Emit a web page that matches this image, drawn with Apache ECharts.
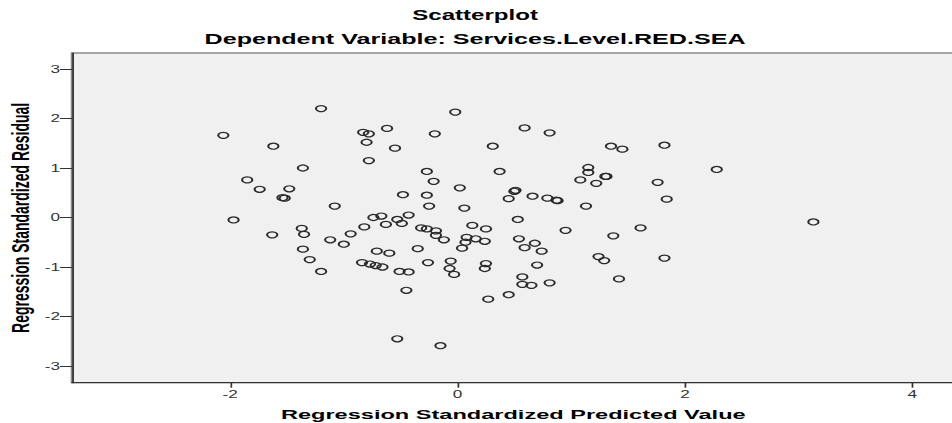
<!DOCTYPE html>
<html>
<head>
<meta charset="utf-8">
<script src="https://cdn.jsdelivr.net/npm/echarts@6/dist/echarts.min.js"></script>
<style>
html,body{margin:0;padding:0;background:#fff;overflow:hidden;}
#wrap{width:952px;height:423px;overflow:hidden;position:relative;}
#chart{width:553.5px;height:423px;transform:scaleX(1.72);transform-origin:0 0;}
</style>
</head>
<body>
<div id="wrap"><div id="chart"></div></div>
<script>
const titleText = 'Scatterplot';
const subtitleText = 'Dependent Variable: Services.Level.RED.SEA';
const xAxisTitle = 'Regression Standardized Predicted Value';
const yAxisTitle = 'Regression Standardized Residual';
const xTicks = [-2, 0, 2, 4];
const yTicks = [-3, -2, -1, 0, 1, 2, 3];

const predicted = [
 -1.20,-2.06,-0.83,-0.78,-1.62,-0.80,-0.78,-1.36,-1.85,-1.74,
 -1.48,-1.54,-1.52,-1.08,-1.97,-0.74,-1.37,-0.82,-1.63,-1.35,
 -0.94,-1.12,-1.00,-1.36,-1.30,-0.84,-0.77,-0.72,-0.66,-1.20,
 -0.02,-0.62,-0.20,0.59,0.81,-0.55,0.31,1.35,1.45,1.82,
 -0.27,0.37,1.15,1.15,-0.21,1.08,1.22,1.30,1.31,1.76,
 0.02,0.50,0.51,0.45,0.66,0.79,0.87,0.88,-0.48,-0.27,
 -0.25,0.06,1.13,-0.67,-0.53,-0.43,-0.63,-0.49,-0.32,-0.27,
 -0.19,-0.19,-0.12,0.13,0.25,0.08,0.16,0.24,0.07,0.04,
 0.53,0.95,1.37,1.61,0.54,0.68,0.59,0.74,-0.71,-0.60,
 -0.35,-0.26,-0.06,-0.07,-0.03,0.25,0.24,-0.51,-0.43,0.70,
 1.24,1.29,1.42,0.57,0.57,0.65,0.81,-0.45,0.27,0.45,
 -0.53,-0.15,2.28,1.84,3.13,1.82
];
const residual = [
 2.20,1.66,1.72,1.69,1.44,1.52,1.15,1.00,0.76,0.57,
 0.58,0.40,0.39,0.23,-0.05,0.00,-0.22,-0.19,-0.35,-0.34,
 -0.33,-0.45,-0.54,-0.64,-0.85,-0.91,-0.94,-0.97,-1.00,-1.09,
 2.13,1.80,1.69,1.81,1.71,1.40,1.44,1.44,1.38,1.46,
 0.93,0.93,1.01,0.91,0.73,0.76,0.69,0.83,0.83,0.71,
 0.60,0.53,0.55,0.38,0.43,0.39,0.35,0.34,0.46,0.45,
 0.23,0.19,0.23,0.03,-0.04,0.05,-0.14,-0.12,-0.21,-0.23,
 -0.27,-0.36,-0.45,-0.16,-0.23,-0.40,-0.43,-0.48,-0.50,-0.62,
 -0.04,-0.26,-0.37,-0.21,-0.43,-0.52,-0.61,-0.68,-0.68,-0.72,
 -0.63,-0.91,-0.88,-1.03,-1.15,-0.93,-1.03,-1.09,-1.10,-0.96,
 -0.79,-0.87,-1.24,-1.20,-1.35,-1.37,-1.32,-1.47,-1.65,-1.56,
 -2.45,-2.59,0.97,0.37,-0.09,-0.82
];

const points = predicted.map((x, i) => [x, residual[i]]);
const FONT = '"Liberation Sans", Arial, sans-serif';

const chart = echarts.init(document.getElementById('chart'), null, {renderer: 'svg'});
chart.setOption({
  animation: false,
  backgroundColor: '#ffffff',
  graphic: [
    {type: 'text', x: 276.2, y: 8, style: {text: titleText, font: 'bold 14px ' + FONT, fill: '#000', align: 'center', verticalAlign: 'top'}},
    {type: 'text', x: 276.2, y: 31, style: {text: subtitleText, font: 'bold 14.6px ' + FONT, fill: '#000', align: 'center', verticalAlign: 'top'}}
  ],
  grid: {
    left: 41.86, right: -1, top: 53, bottom: 40.3,
    outerBoundsMode: 'none', containLabel: false,
    show: true, backgroundColor: '#f0f0f0', borderColor: '#8a8a8a', borderWidth: 1.5
  },
  xAxis: {
    type: 'value', min: -3.391, max: 4.372,
    name: xAxisTitle, nameLocation: 'middle', nameGap: 25, nameMoveOverlap: false,
    nameTextStyle: {fontFamily: FONT, fontWeight: 'bold', fontSize: 13.7, color: '#000'},
    axisLine: {show: true, onZero: false, lineStyle: {color: '#333', width: 1}},
    axisTick: {show: true, length: 5, customValues: xTicks, lineStyle: {color: '#333'}},
    axisLabel: {customValues: xTicks, margin: 7, fontFamily: FONT, fontSize: 10, color: '#333'},
    splitLine: {show: false}
  },
  yAxis: {
    type: 'value', min: -3.337, max: 3.323,
    name: yAxisTitle, nameLocation: 'middle', nameGap: 23, nameMoveOverlap: false,
    nameTextStyle: {fontFamily: FONT, fontWeight: 'bold', fontSize: 14, color: '#000'},
    axisLine: {show: true, onZero: false, lineStyle: {color: '#333', width: 1}},
    axisTick: {show: true, length: 7, customValues: yTicks, lineStyle: {color: '#333'}},
    axisLabel: {customValues: yTicks, margin: 7, fontFamily: FONT, fontSize: 10, color: '#333'},
    splitLine: {show: false}
  },
  series: [{
    type: 'scatter',
    data: points,
    symbol: 'circle',
    symbolSize: 6,
    itemStyle: {color: 'rgba(0,0,0,0)', borderColor: '#2a2a2a', borderWidth: 1.2, opacity: 1}
  }]
});
</script>
</body>
</html>
